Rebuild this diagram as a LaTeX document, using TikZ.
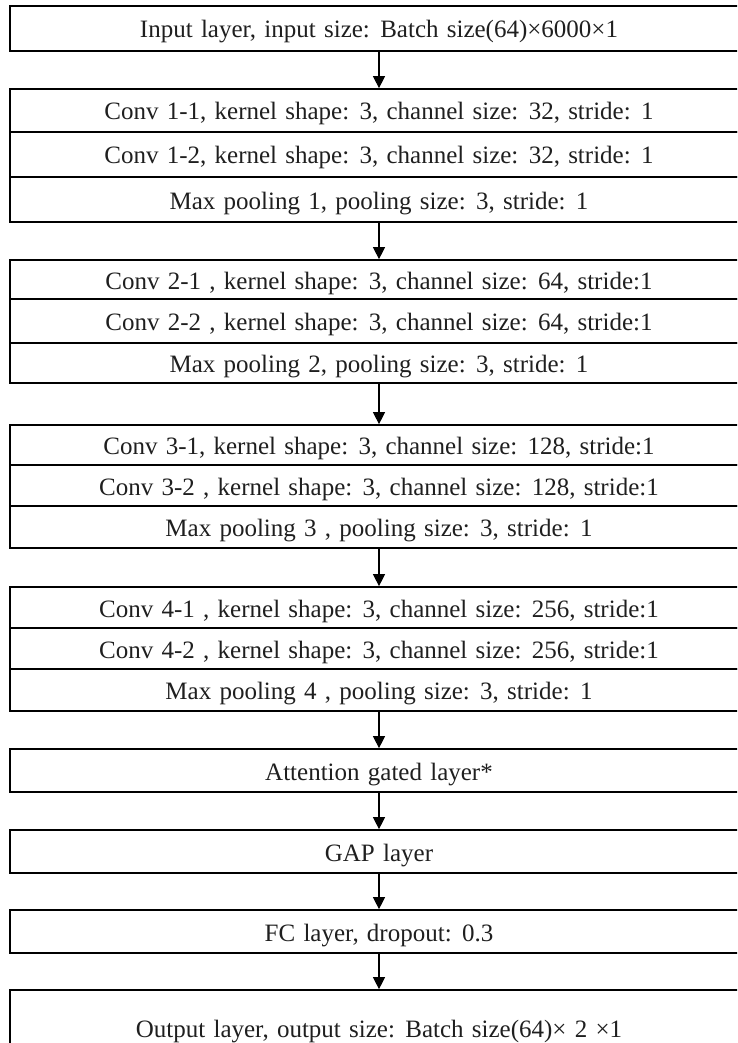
\documentclass[tikz,border=0pt]{standalone}
\usepackage{fontspec}
\setmainfont{Liberation Serif}
\usetikzlibrary{arrows.meta}
\newcommand\layerfont{\fontsize{25}{29}\selectfont\spaceskip=0.33em plus 0.1em\relax}
\begin{document}
\begin{tikzpicture}[x=1pt,y=-1pt,
  layer/.style={draw, line width=1.7pt, minimum width=738pt, inner sep=0pt,
    font=\layerfont, text=black!88, text height=21pt, text depth=2pt},
  flow/.style={line width=1.1pt, -{Triangle[length=12pt,width=12pt]}}]
  \useasboundingbox (0,0) rectangle (737,1043);
  \clip (0,0) rectangle (737,1043);

  % input
  \node[layer, minimum height=45pt] (in) at (379,28.5)
    {Input layer, input size: Batch size(64)×6000×1};

  % block 1
  \node[layer, minimum height=43pt] (c11) at (379,110.5)
    {Conv 1-1, kernel shape: 3, channel size: 32, stride: 1};
  \node[layer, minimum height=45pt] (c12) at (379,154.5)
    {Conv 1-2, kernel shape: 3, channel size: 32, stride: 1};
  \node[layer, minimum height=45pt] (p1) at (379,199.5)
    {Max pooling 1, pooling size: 3, stride: 1};

  % block 2
  \node[layer, minimum height=39pt] (c21) at (379,279.5)
    {Conv 2-1 , kernel shape: 3, channel size: 64, stride:1};
  \node[layer, minimum height=44pt] (c22) at (379,321)
    {Conv 2-2 , kernel shape: 3, channel size: 64, stride:1};
  \node[layer, minimum height=40pt] (p2) at (379,363)
    {Max pooling 2, pooling size: 3, stride: 1};

  % block 3
  \node[layer, minimum height=40pt] (c31) at (379,445)
    {Conv 3-1, kernel shape: 3, channel size: 128, stride:1};
  \node[layer, minimum height=41pt] (c32) at (379,485.5)
    {Conv 3-2 , kernel shape: 3, channel size: 128, stride:1};
  \node[layer, minimum height=42pt] (p3) at (379,527)
    {Max pooling 3 , pooling size: 3, stride: 1};

  % block 4
  \node[layer, minimum height=41pt] (c41) at (379,607.5)
    {Conv 4-1 , kernel shape: 3, channel size: 256, stride:1};
  \node[layer, minimum height=41pt] (c42) at (379,648.5)
    {Conv 4-2 , kernel shape: 3, channel size: 256, stride:1};
  \node[layer, minimum height=42pt] (p4) at (379,690)
    {Max pooling 4 , pooling size: 3, stride: 1};

  % head
  \node[layer, minimum height=43pt] (att) at (379,770.5) {Attention gated layer*};
  \node[layer, minimum height=43pt] (gap) at (379,851.5) {GAP layer};
  \node[layer, minimum height=43pt] (fc) at (379,931.5) {FC layer, dropout: 0.3};
  \node[layer, minimum height=76pt] (out) at (379,1028)
    {Output layer, output size: Batch size(64)× 2 ×1};

  % connectors
  \draw[flow] (in.south) -- (c11.north);
  \draw[flow] (p1.south) -- (c21.north);
  \draw[flow] (p2.south) -- (c31.north);
  \draw[flow] (p3.south) -- (c41.north);
  \draw[flow] (p4.south) -- (att.north);
  \draw[flow] (att.south) -- (gap.north);
  \draw[flow] (gap.south) -- (fc.north);
  \draw[flow] (fc.south) -- (out.north);
\end{tikzpicture}
\end{document}
